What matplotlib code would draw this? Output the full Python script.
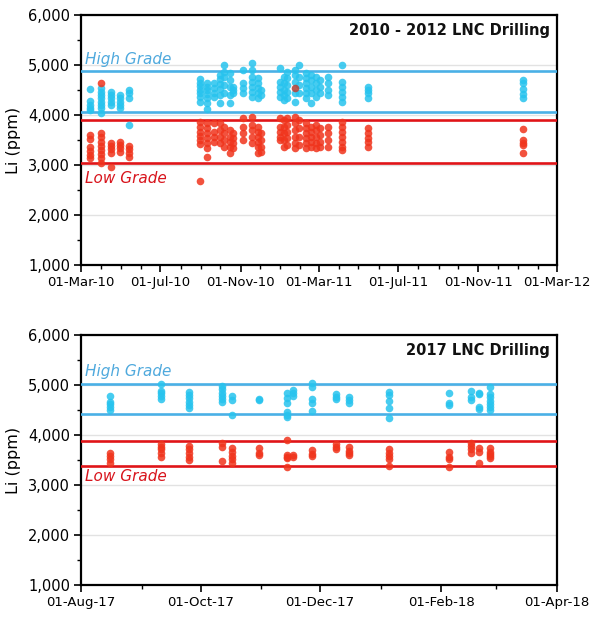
import matplotlib
matplotlib.use("Agg")
import matplotlib.pyplot as plt
import matplotlib.dates as mdates
from matplotlib.ticker import MultipleLocator, FuncFormatter
import pandas as pd

# ---------------- Data ----------------
top_high_dates = ["2010-03-15", "2010-03-31", "2010-04-16", "2010-04-30", "2010-05-13",
                  "2010-08-31", "2010-09-11", "2010-09-21", "2010-09-30", "2010-10-07",
                  "2010-10-16", "2010-10-21", "2010-11-04", "2010-11-18", "2010-11-28",
                  "2010-12-02", "2010-12-31", "2011-01-06", "2011-01-12", "2011-01-23",
                  "2011-01-30", "2011-02-10", "2011-02-17", "2011-02-25", "2011-03-03",
                  "2011-03-16", "2011-04-05", "2011-05-15", "2012-01-08"]
top_high_vals = [[4513, 4280, 4200, 4133, 4100],
                 [4533, 4467, 4400, 4333, 4267, 4200, 4133, 4047],
                 [4467, 4400, 4333, 4267, 4200],
                 [4400, 4333, 4267, 4200, 4133],
                 [4500, 4433, 4333, 3800],
                 [4713, 4647, 4580, 4500, 4433, 4353, 4267],
                 [4647, 4567, 4500, 4420, 4333, 4247, 4113],
                 [4633, 4533, 4433, 4353],
                 [4800, 4713, 4620, 4513, 4400, 4247],
                 [5000, 4867, 4767, 4600, 4433],
                 [4833, 4700, 4567, 4400, 4233],
                 [4567, 4500, 4433],
                 [4900, 4633, 4533, 4433],
                 [5033, 4900, 4767, 4667, 4567, 4467, 4367],
                 [4733, 4633, 4533, 4433, 4333],
                 [4500, 4400],
                 [4933, 4667, 4567, 4467, 4367],
                 [4767, 4633, 4500, 4400, 4300],
                 [4867, 4733, 4600, 4467, 4333],
                 [4900, 4800, 4667, 4433, 4267],
                 [5000, 4767, 4600, 4433],
                 [4833, 4733, 4633, 4533, 4433, 4333],
                 [4800, 4700, 4567, 4433, 4233],
                 [4767, 4633, 4500, 4367],
                 [4700, 4567, 4433],
                 [4767, 4633, 4500, 4400],
                 [5000, 4667, 4567, 4467, 4367, 4267],
                 [4567, 4500, 4433, 4333],
                 [4700, 4633, 4513, 4413, 4333]]
top_low_dates = top_high_dates
top_low_vals = [[3600, 3513, 3353, 3280, 3200, 3133],
                [4633, 3633, 3553, 3467, 3380, 3300, 3220, 3133, 3047],
                [3447, 3380, 3313, 3233, 2967],
                [3467, 3400, 3333, 3267],
                [3380, 3313, 3233, 3167],
                [3867, 3753, 3667, 3580, 3500, 3420, 2687],
                [3833, 3733, 3633, 3533, 3433, 3333, 3167],
                [3833, 3667, 3567, 3467],
                [3847, 3700, 3567, 3433],
                [3767, 3633, 3500, 3367],
                [3700, 3567, 3467, 3367, 3233],
                [3633, 3533, 3433, 3333],
                [3933, 3767, 3633, 3500],
                [3967, 3800, 3700, 3567, 3433],
                [3767, 3667, 3567, 3467, 3367, 3233],
                [3633, 3500, 3367, 3267],
                [3933, 3767, 3667, 3567, 3500],
                [3900, 3767, 3633, 3500, 3367],
                [3933, 3800, 3667, 3533, 3400],
                [3967, 3833, 3700, 3567, 3433, 3333],
                [3900, 3733, 3567, 3400],
                [3833, 3733, 3633, 3533, 3433, 3333],
                [3767, 3667, 3567, 3467, 3367],
                [3800, 3700, 3567, 3433, 3333],
                [3733, 3600, 3467, 3367],
                [3767, 3633, 3500, 3367],
                [3867, 3767, 3667, 3567, 3467, 3367, 3300],
                [3733, 3633, 3533, 3467, 3367],
                [3713, 3500, 3447, 3400, 3233]]
top_mixed_dates = ["2011-01-23"]
top_mixed_vals = [4547]

bot_dates = ["2017-08-16", "2017-09-11", "2017-09-25", "2017-10-12", "2017-10-17",
             "2017-10-31", "2017-11-14", "2017-11-17", "2017-11-27", "2017-12-09",
             "2017-12-16", "2018-01-05", "2018-02-05", "2018-02-16", "2018-02-20",
             "2018-02-26"]
bot_high_vals = [[4787, 4667, 4613, 4553, 4500],
                 [5013, 4887, 4833, 4780, 4720],
                 [4867, 4800, 4733, 4667, 4600, 4547],
                 [4980, 4913, 4847, 4780, 4713, 4660],
                 [4780, 4700, 4400],
                 [4720, 4700],
                 [4847, 4733, 4647, 4467, 4400, 4353],
                 [4900, 4833, 4780],
                 [5040, 4960, 4720, 4640, 4490],
                 [4820, 4767, 4713],
                 [4753, 4700, 4647],
                 [4867, 4800, 4680, 4533, 4333],
                 [4847, 4647, 4593],
                 [4887, 4753, 4700],
                 [4847, 4820, 4567, 4513],
                 [4953, 4820, 4753, 4687, 4620, 4553, 4500]]
bot_low_vals = [[3633, 3580, 3513, 3447],
                [3820, 3767, 3713, 3647, 3553],
                [3780, 3713, 3647, 3567, 3500],
                [3847, 3767, 3487],
                [3733, 3667, 3580, 3513, 3447],
                [3733, 3647, 3600],
                [3900, 3600, 3567, 3533, 3353],
                [3600, 3560],
                [3700, 3620, 3580],
                [3820, 3767, 3727],
                [3753, 3687, 3633, 3593],
                [3713, 3633, 3580, 3513, 3380],
                [3667, 3553, 3513, 3353],
                [3847, 3780, 3713, 3647],
                [3733, 3667, 3433],
                [3733, 3667, 3620, 3580, 3533]]

top_high_grade = [4880, 4070]
top_low_grade = [3900, 3040]
bot_high_grade = [5030, 4430]
bot_low_grade = [3890, 3390]

top_title = "2010 - 2012 LNC Drilling"
bot_title = "2017 LNC Drilling"
top_xlim = ("2010-03-01", "2012-03-01")
bot_xlim = ("2017-08-01", "2018-04-01")

# ---------------- Style ----------------
C_HI_PT = "#27C3EE"
C_LO_PT = "#F0341C"
C_HI_LN = "#4AB0E6"
C_LO_LN = "#E01418"
C_HI_TX = "#4FA9DD"
C_LO_TX = "#D8141C"


def expand(dates, vals):
    xs, ys = [], []
    for d, col in zip(dates, vals):
        for v in col:
            xs.append(pd.Timestamp(d))
            ys.append(v)
    return xs, ys


fig = plt.figure(figsize=(5.96, 6.18), dpi=100)
ax1 = fig.add_axes([0.136, 0.5712, 0.7986, 0.4045])
ax2 = fig.add_axes([0.136, 0.0534, 0.7986, 0.4045])


def style(ax, xlim, major_months, title, hg, lg, hi_txt_y, lo_txt_y, txt_x):
    ax.set_ylim(1000, 6000)
    ax.set_xlim(pd.Timestamp(xlim[0]), pd.Timestamp(xlim[1]))
    ax.yaxis.set_major_locator(MultipleLocator(1000))
    ax.yaxis.set_minor_locator(MultipleLocator(500))
    ax.yaxis.set_major_formatter(FuncFormatter(lambda v, p: f"{int(v):,}"))
    ax.xaxis.set_major_locator(mdates.MonthLocator(bymonth=major_months, bymonthday=1))
    ax.xaxis.set_minor_locator(mdates.MonthLocator(bymonthday=1))
    ax.xaxis.set_major_formatter(mdates.DateFormatter("%d-%b-%y"))
    ax.grid(axis="y", which="major", color="#E2E2E2", linewidth=1.0, zorder=0)
    ax.set_axisbelow(True)
    for s in ax.spines.values():
        s.set_linewidth(1.6)
        s.set_color("black")
    ax.tick_params(which="major", direction="out", length=5, width=1.2,
                   colors="black", pad=3)
    ax.tick_params(axis="x", labelsize=9.5)
    ax.tick_params(axis="y", labelsize=10.5)
    ax.tick_params(which="minor", direction="out", length=3, width=1.0)
    ax.set_ylabel("Li (ppm)", fontsize=11.5, labelpad=5)
    for v in hg:
        ax.axhline(v, color=C_HI_LN, linewidth=1.9, zorder=3)
    for v in lg:
        ax.axhline(v, color=C_LO_LN, linewidth=1.9, zorder=3)
    ax.text(0.985, 0.94, title, transform=ax.transAxes, ha="right", va="center",
            fontsize=10.5, fontweight="bold", color="#111111")
    ax.text(pd.Timestamp(txt_x), hi_txt_y, "High Grade", color=C_HI_TX,
            fontsize=11, style="italic", ha="left", va="center")
    ax.text(pd.Timestamp(txt_x), lo_txt_y, "Low Grade", color=C_LO_TX,
            fontsize=11, style="italic", ha="left", va="center")


style(ax1, top_xlim, [3, 7, 11], top_title, top_high_grade, top_low_grade,
      5120, 2740, "2010-03-07")
style(ax2, bot_xlim, [2, 4, 6, 8, 10, 12], bot_title, bot_high_grade, bot_low_grade,
      5270, 3170, "2017-08-03")

ms = 30
x, y = expand(top_high_dates, top_high_vals)
ax1.scatter(x, y, s=ms, color=C_HI_PT, alpha=0.85, linewidths=0, zorder=4)
x, y = expand(top_low_dates, top_low_vals)
ax1.scatter(x, y, s=ms, color=C_LO_PT, alpha=0.85, linewidths=0, zorder=4)
ax1.scatter([pd.Timestamp(d) for d in top_mixed_dates], top_mixed_vals, s=ms,
            color="#B4473F", alpha=0.9, linewidths=0, zorder=5)

x, y = expand(bot_dates, bot_high_vals)
ax2.scatter(x, y, s=ms, color=C_HI_PT, alpha=0.85, linewidths=0, zorder=4)
x, y = expand(bot_dates, bot_low_vals)
ax2.scatter(x, y, s=ms, color=C_LO_PT, alpha=0.85, linewidths=0, zorder=4)

fig.savefig("out.png", dpi=100)
